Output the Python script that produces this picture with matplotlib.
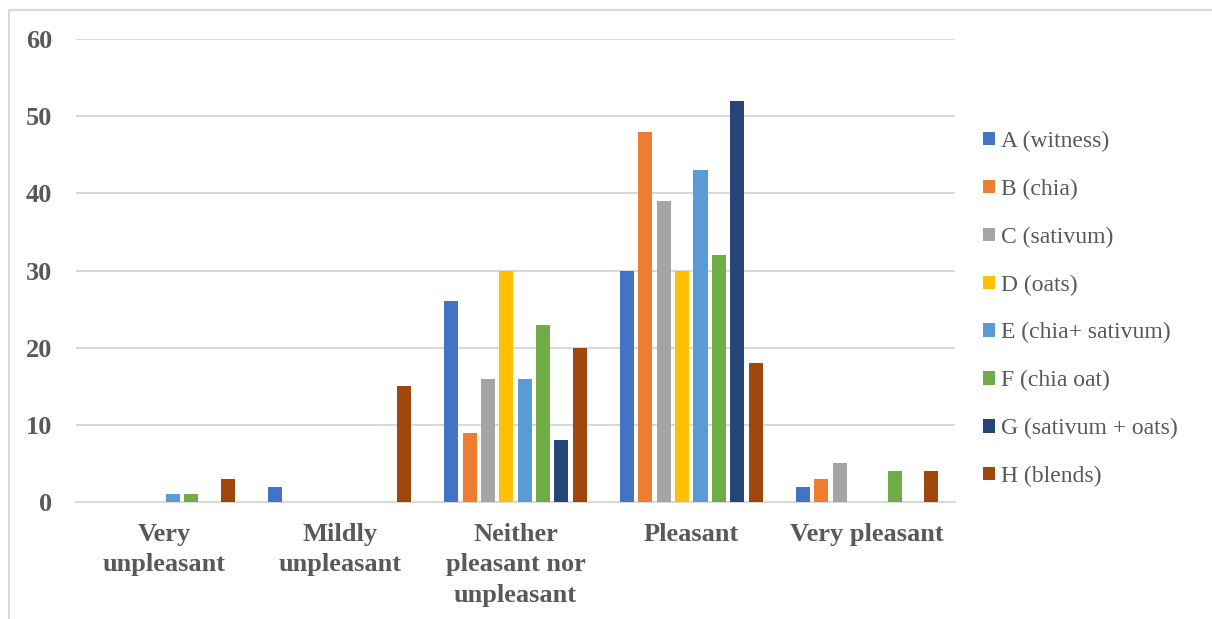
import numpy as np
import matplotlib
matplotlib.use("Agg")
import matplotlib.pyplot as plt
from matplotlib.patches import Rectangle

categories = ["Very\nunpleasant", "Mildly\nunpleasant", "Neither\npleasant nor\nunpleasant",
              "Pleasant", "Very pleasant"]
series_names = ["A (witness)", "B (chia)", "C (sativum)", "D (oats)",
                "E (chia+ sativum)", "F (chia oat)", "G (sativum + oats)", "H (blends)"]
a_witness = [0, 2, 26, 30, 2]
b_chia = [0, 0, 9, 48, 3]
c_sativum = [0, 0, 16, 39, 5]
d_oats = [0, 0, 30, 30, 0]
e_chia_sativum = [1, 0, 16, 43, 0]
f_chia_oat = [1, 0, 23, 32, 4]
g_sativum_oats = [0, 0, 8, 52, 0]
h_blends = [3, 15, 20, 18, 4]
series_values = [a_witness, b_chia, c_sativum, d_oats,
                 e_chia_sativum, f_chia_oat, g_sativum_oats, h_blends]
colors = ["#4472C4", "#ED7D31", "#A5A5A5", "#FFC000",
          "#5B9BD5", "#70AD47", "#264478", "#9E480E"]

text_color = "#595959"
plt.rcParams["font.family"] = ["Liberation Serif", "DejaVu Serif"]

fig = plt.figure(figsize=(12.12, 6.19), dpi=100)
ax = fig.add_axes([76 / 1212, 1 - 502 / 619, (955 - 76) / 1212, (502 - 39) / 619])

# light frame around the chart area (cut off at right and bottom)
fig.patches.append(Rectangle((9 / 1212, -0.1), 1.2, 1 - 10 / 619 + 0.1,
                             transform=fig.transFigure, fill=False,
                             edgecolor="#D9D9D9", linewidth=1.5))

x = np.arange(len(categories))
step = 0.1045
width = 0.08
for i, (name, vals, col) in enumerate(zip(series_names, series_values, colors)):
    ax.bar(x + (i - 3.5) * step, vals, width, color=col, label=name, zorder=3)

ax.set_xlim(-0.5, len(categories) - 0.5)
ax.set_ylim(0, 60)
ax.set_yticks(range(0, 61, 10))
ax.yaxis.grid(True, color="#D9D9D9", linewidth=1.5, zorder=0)
for s in ["top", "right", "left"]:
    ax.spines[s].set_visible(False)
ax.spines["bottom"].set_color("#D9D9D9")
ax.spines["bottom"].set_linewidth(1.5)
ax.tick_params(axis="both", length=0, colors=text_color)
ax.tick_params(axis="y", pad=17)
ax.tick_params(axis="x", pad=15)
ax.set_xticks(x)
ax.set_xticklabels(categories, fontsize=19, fontweight="bold", color=text_color,
                   linespacing=1.42, va="top")
for lab in ax.get_yticklabels():
    lab.set_fontsize(19)
    lab.set_fontweight("bold")
    lab.set_color(text_color)

leg = fig.legend(loc="center left", bbox_to_anchor=(971 / 1212, 1 - 309 / 619),
                 frameon=False, fontsize=17, handlelength=0.5, handleheight=0.5,
                 handletextpad=0.25, labelspacing=1.13, borderpad=0)
for t in leg.get_texts():
    t.set_color(text_color)

fig.savefig("out.png", dpi=100)
